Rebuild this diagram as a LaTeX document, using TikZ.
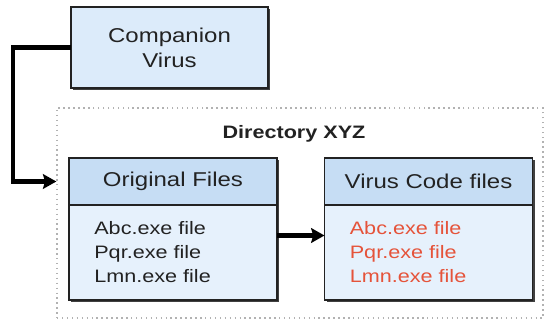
\documentclass[tikz,border=0pt]{standalone}
\usepackage{fontspec}
\setmainfont{Liberation Sans}[FakeStretch=1.2]
\usetikzlibrary{positioning,shadows,arrows.meta}
\definecolor{boxblue}{HTML}{DCEBFA}
\definecolor{headblue}{HTML}{C6DDF4}
\definecolor{bodyblue}{HTML}{E6F1FC}
\definecolor{inkgray}{HTML}{222222}
\definecolor{virusred}{HTML}{E5533A}
\begin{document}
\begin{tikzpicture}[
  x=0.75pt, y=-0.75pt,
  shade box/.style={draw=inkgray, line width=1.3pt, outer sep=0pt,
    drop shadow={shadow xshift=1.8pt, shadow yshift=-1.8pt, fill=black!75, opacity=1}},
  virusbox/.style={shade box, fill=boxblue, align=center, minimum width=147.75pt, minimum height=60.75pt,
    font=\fontsize{15}{18.75}\selectfont, text=inkgray},
  filehead/.style={shade box, fill=headblue, minimum width=156pt, minimum height=35.25pt,
    font=\fontsize{15}{18.75}\selectfont, text=inkgray},
  filebody/.style={shade box, fill=bodyblue, minimum width=156pt, minimum height=71.25pt,
    inner xsep=19pt, text width=118pt, align=left, font=\fontsize{13.5}{18}\selectfont},
  dirbox/.style={draw=gray!60, line width=1.2pt, dash pattern=on 1.1pt off 2.6pt,
    minimum width=364.5pt, minimum height=157.5pt},
  link/.style={line width=3.6pt, draw=black, -{Stealth[length=10pt, width=11pt, inset=1.5pt]}}
]
  \useasboundingbox (0,0) rectangle (545,320);

  \node[dirbox] (dirxyz) at (300,213) {};
  \node[font=\fontsize{13.5}{16}\selectfont\bfseries, text=inkgray] (dirlabel) at (294,134) {Directory XYZ};

  \node[virusbox] (companion) at (169.5,47.5) {Companion\\Virus};

  \node[filehead] (orighead) at (173,181.5) {Original Files};
  \node[filebody, text=inkgray, below=0pt of orighead] (origlist) {Abc.exe file\\Pqr.exe file\\Lmn.exe file};

  \node[filehead] (virushead) at (428.5,181.5) {Virus Code files};
  \node[filebody, text=virusred, below=0pt of virushead] (viruslist) {Abc.exe file\\Pqr.exe file\\Lmn.exe file};

  \draw[link, shorten >=9.5pt] (companion.west) -- ++(-58,0) |- (orighead.west);
  \draw[link] ([yshift=12.75pt]origlist.east) -- ([yshift=12.75pt]viruslist.west);
\end{tikzpicture}
\end{document}
